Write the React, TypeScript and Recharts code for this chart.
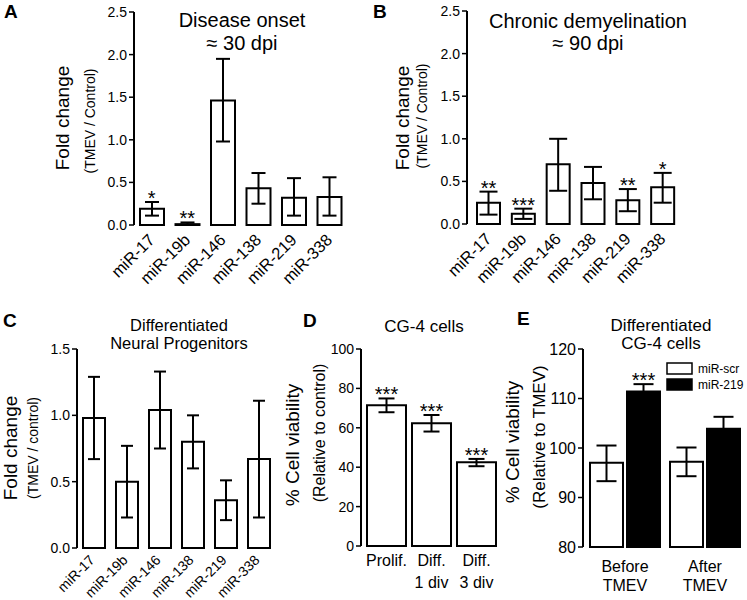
import React from "react";
import {
  Bar,
  ComposedChart,
  ErrorBar,
  LabelList,
  Scatter,
  XAxis,
  YAxis,
} from "recharts";

const FONT = "'Liberation Sans', Arial, Helvetica, sans-serif";

// microRNAs shared by panels A-C
const mirs = ["miR-17", "miR-19b", "miR-146", "miR-138", "miR-219", "miR-338"];

// A: disease onset (~30 dpi)
const onsetMean = [0.19, 0.01, 1.46, 0.43, 0.32, 0.33];
const onsetLow = [0.11, 0.005, 0.98, 0.25, 0.11, 0.11];
const onsetHigh = [0.27, 0.03, 1.95, 0.61, 0.55, 0.56];
const onsetStars = ["*", "**", "", "", "", ""];

// B: chronic demyelination (~90 dpi)
const chronicMean = [0.25, 0.12, 0.70, 0.48, 0.28, 0.43];
const chronicLow = [0.11, 0.06, 0.39, 0.29, 0.15, 0.25];
const chronicHigh = [0.38, 0.18, 1.0, 0.67, 0.41, 0.60];
const chronicStars = ["**", "***", "", "", "**", "*"];

// C: differentiated neural progenitors
const npMean = [0.98, 0.5, 1.04, 0.8, 0.36, 0.67];
const npLow = [0.67, 0.23, 0.75, 0.6, 0.21, 0.23];
const npHigh = [1.29, 0.77, 1.33, 1.0, 0.51, 1.11];

const foldTicksAB = [0, 0.5, 1.0, 1.5, 2.0, 2.5];
const foldTicksC = [0, 0.5, 1.0, 1.5];

// D: CG-4 cells viability
const cgGroups = ["Prolif.", "Diff.\n1 div", "Diff.\n3 div"];
const cgMean = [71.5, 62.3, 42.5];
const cgLow = [67.9, 58.1, 40.5];
const cgHigh = [74.9, 66.5, 44.2];
const cgStars = ["***", "***", "***"];
const cgTicks = [0, 20, 40, 60, 80, 100];

// E: differentiated CG-4, miR-scr vs miR-219
const tmevGroups = ["Before\nTMEV", "After\nTMEV"];
const seriesNames = ["miR-scr", "miR-219"];
const scrMean = [97.0, 97.2];
const scrLow = [93.3, 94.3];
const scrHigh = [100.5, 100.1];
const m219Mean = [111.4, 103.9];
const m219Low = [109.9, 101.5];
const m219High = [112.9, 106.3];
const m219Stars = ["***", ""];
const tmevTicks = [80, 90, 100, 110, 120];
const E_MIN = 80;

function RotTick(props: any) {
  const { x, y, payload, fs, ox, oy } = props;
  const ax = x + ox;
  const ay = y + oy;
  return (
    <g>
      <text
        x={ax}
        y={ay}
        transform={`rotate(-45, ${ax}, ${ay})`}
        textAnchor="end"
        fontSize={fs}
        fontFamily={FONT}
        fill="#000"
      >
        {payload.value}
      </text>
    </g>
  );
}

function TwoLineTick(props: any) {
  const { x, y, payload, dy, lh, fs } = props;
  const lines = String(payload.value).split("\n");
  return (
    <text x={x} y={y + dy} textAnchor="middle" fontSize={fs} fontFamily={FONT} fill="#000">
      {lines.map((l, i) => (
        <tspan key={i} x={x} dy={i ? lh : 0}>
          {l}
        </tspan>
      ))}
    </text>
  );
}

function StarMark(props: any) {
  const { cx, cy, payload } = props;
  if (!payload || !payload.star) return <g />;
  return (
    <text x={cx} y={cy + 3} textAnchor="middle" fontSize={20} fontFamily={FONT} fill="#000">
      {payload.star}
    </text>
  );
}

const yAxisProps = {
  width: 60,
  axisLine: { stroke: "#000", strokeWidth: 2 },
  tickLine: { stroke: "#000", strokeWidth: 1.5 },
  tickSize: 5,
  interval: 0 as const,
};

interface PanelProps {
  px0: number;
  px1: number;
  py0: number;
  py1: number;
  children: React.ReactNode;
}

function Place({ px0, px1, py0, py1, children }: PanelProps) {
  return (
    <div
      style={{
        position: "absolute",
        left: px0 - 60,
        top: py0 - 10,
        width: px1 - px0 + 62,
        height: py1 - py0 + 80,
      }}
    >
      {children}
    </div>
  );
}

function rows(
  names: string[],
  mean: number[],
  low: number[],
  high: number[],
  stars?: string[]
) {
  return names.map((name, i) => ({
    name,
    mean: mean[i],
    err: [mean[i] - low[i], high[i] - mean[i]],
    top: high[i],
    star: stars ? stars[i] : "",
  }));
}

function FoldPanel(props: {
  px0: number;
  px1: number;
  py0: number;
  py1: number;
  data: any[];
  ticks: number[];
  barSize: number;
  cap: number;
  padLeft: number;
  tickFs: number;
  labelFs: number;
  ox: number;
  oy: number;
}) {
  const { px0, px1, py0, py1, data, ticks, barSize, cap, padLeft, tickFs, labelFs, ox, oy } = props;
  const w = px1 - px0 + 62;
  const h = py1 - py0 + 80;
  return (
    <Place px0={px0} px1={px1} py0={py0} py1={py1}>
      <ComposedChart
        width={w}
        height={h}
        data={data}
        margin={{ top: 10, right: 2, left: 0, bottom: 0 }}
      >
        <XAxis
          dataKey="name"
          height={70}
          axisLine={false}
          tickLine={false}
          tickSize={0}
          tickMargin={0}
          interval={0}
          padding={{ left: padLeft, right: 0 }}
          tick={(p: any) => <RotTick {...p} fs={labelFs} ox={ox} oy={oy} />}
        />
        <YAxis
          {...yAxisProps}
          domain={[0, ticks[ticks.length - 1]]}
          ticks={ticks}
          tickFormatter={(v: number) => v.toFixed(1)}
          tick={{ fill: "#000", fontSize: tickFs, fontFamily: FONT }}
        />
        <Bar
          dataKey="mean"
          fill="#fff"
          stroke="#000"
          strokeWidth={2}
          barSize={barSize}
          isAnimationActive={false}
        >
          <ErrorBar dataKey="err" width={cap} strokeWidth={2} stroke="#000" direction="y" />
        </Bar>
        <Scatter dataKey="top" shape={<StarMark />} isAnimationActive={false} />
      </ComposedChart>
    </Place>
  );
}

const onsetData = rows(mirs, onsetMean, onsetLow, onsetHigh, onsetStars);
const chronicData = rows(mirs, chronicMean, chronicLow, chronicHigh, chronicStars);
const npData = rows(mirs, npMean, npLow, npHigh);
const cgData = rows(cgGroups, cgMean, cgLow, cgHigh, cgStars);
const tmevData = tmevGroups.map((name, i) => ({
  name,
  scr: scrMean[i],
  scrErr: [scrMean[i] - scrLow[i], scrHigh[i] - scrMean[i]],
  m219: m219Mean[i],
  m219Err: [m219Mean[i] - m219Low[i], m219High[i] - m219Mean[i]],
}));

function E219Star(p: any) {
  const { x, y, width, height, index } = p;
  const star = m219Stars[index];
  if (!star) return null;
  const perUnit = height / (m219Mean[index] - E_MIN);
  const yTop = y - (m219High[index] - m219Mean[index]) * perUnit;
  return (
    <text x={x + width / 2} y={yTop + 3} textAnchor="middle" fontSize={20} fontFamily={FONT} fill="#000">
      {star}
    </text>
  );
}

function VLabel({ x, y, fs, text }: { x: number; y: number; fs: number; text: string }) {
  return (
    <text
      transform={`translate(${x},${y}) rotate(-90)`}
      textAnchor="middle"
      fontSize={fs}
      fontFamily={FONT}
      fill="#000"
    >
      {text}
    </text>
  );
}

function T({ x, y, fs, text, bold }: { x: number; y: number; fs: number; text: string; bold?: boolean }) {
  return (
    <text
      x={x}
      y={y}
      textAnchor={bold ? "start" : "middle"}
      fontSize={fs}
      fontWeight={bold ? "bold" : "normal"}
      fontFamily={bold ? "Arial, 'Liberation Sans', sans-serif" : FONT}
      fill="#000"
    >
      {text}
    </text>
  );
}

export default function App() {
  return (
    <div
      style={{
        position: "absolute",
        left: 0,
        top: 0,
        width: 747,
        height: 600,
        overflow: "hidden",
        background: "#fff",
        fontFamily: FONT,
      }}
    >
      <FoldPanel px0={134} px1={347} py0={12} py1={225} data={onsetData} ticks={foldTicksAB} barSize={24} cap={7} padLeft={0} tickFs={14} labelFs={16.5} ox={4} oy={16} />
      <FoldPanel px0={467} px1={680} py0={11} py1={224} data={chronicData} ticks={foldTicksAB} barSize={23} cap={9} padLeft={4} tickFs={14} labelFs={16.5} ox={4} oy={16} />
      <FoldPanel px0={77} px1={275} py0={349} py1={548} data={npData} ticks={foldTicksC} barSize={22} cap={6} padLeft={0} tickFs={14} labelFs={14} ox={2} oy={13} />

      <Place px0={361} px1={499} py0={349} py1={546}>
        <ComposedChart width={200} height={277} data={cgData} margin={{ top: 10, right: 2, left: 0, bottom: 0 }}>
          <XAxis
            dataKey="name"
            height={70}
            axisLine={false}
            tickLine={false}
            tickSize={0}
            tickMargin={0}
            interval={0}
            padding={{ left: 3, right: 0 }}
            tick={<TwoLineTick dy={20} lh={22} fs={16} />}
          />
          <YAxis
            {...yAxisProps}
            domain={[0, 100]}
            ticks={cgTicks}
            tick={{ fill: "#000", fontSize: 14, fontFamily: FONT }}
          />
          <Bar dataKey="mean" fill="#fff" stroke="#000" strokeWidth={2} barSize={39} isAnimationActive={false}>
            <ErrorBar dataKey="err" width={8} strokeWidth={2} stroke="#000" direction="y" />
          </Bar>
          <Scatter dataKey="top" shape={<StarMark />} isAnimationActive={false} />
        </ComposedChart>
      </Place>

      <Place px0={583} px1={745} py0={349} py1={547}>
        <ComposedChart
          width={224}
          height={278}
          data={tmevData}
          margin={{ top: 10, right: 2, left: 0, bottom: 0 }}
          barGap={4}
        >
          <XAxis
            dataKey="name"
            height={70}
            axisLine={false}
            tickLine={false}
            tickSize={0}
            tickMargin={0}
            interval={0}
            padding={{ left: 2, right: 0 }}
            tick={<TwoLineTick dy={25} lh={19} fs={16} />}
          />
          <YAxis
            {...yAxisProps}
            domain={[E_MIN, 120]}
            ticks={tmevTicks}
            tick={{ fill: "#000", fontSize: 16, fontFamily: FONT }}
          />
          <Bar dataKey="scr" name={seriesNames[0]} fill="#fff" stroke="#000" strokeWidth={2} barSize={33} isAnimationActive={false}>
            <ErrorBar dataKey="scrErr" width={10} strokeWidth={2} stroke="#000" direction="y" />
          </Bar>
          <Bar dataKey="m219" name={seriesNames[1]} fill="#000" stroke="#000" strokeWidth={2} barSize={33} isAnimationActive={false}>
            <ErrorBar dataKey="m219Err" width={10} strokeWidth={2} stroke="#000" direction="y" />
            <LabelList dataKey="m219" content={<E219Star />} />
          </Bar>
        </ComposedChart>
      </Place>

      <svg
        width={747}
        height={600}
        style={{ position: "absolute", left: 0, top: 0, pointerEvents: "none" }}
      >
        <T x={4} y={18} fs={19} text="A" bold />
        <T x={373} y={18} fs={19} text="B" bold />
        <T x={3} y={327} fs={19} text="C" bold />
        <T x={303} y={327} fs={19} text="D" bold />
        <T x={517} y={325} fs={19} text="E" bold />

        <T x={242} y={27} fs={20} text="Disease onset" />
        <T x={242} y={50} fs={20} text="≈ 30 dpi" />
        <T x={588} y={28} fs={20} text="Chronic demyelination" />
        <T x={588} y={50} fs={20} text="≈ 90 dpi" />
        <T x={179} y={331} fs={16.5} text="Differentiated" />
        <T x={179} y={349} fs={16.5} text="Neural Progenitors" />
        <T x={424} y={332} fs={17} text="CG-4 cells" />
        <T x={661} y={331} fs={17} text="Differentiated" />
        <T x={661} y={349} fs={17} text="CG-4 cells" />

        <VLabel x={69} y={118} fs={19} text="Fold change" />
        <VLabel x={95} y={121} fs={14} text="(TMEV / Control)" />
        <VLabel x={409} y={118} fs={19} text="Fold change" />
        <VLabel x={427} y={116} fs={14} text="(TMEV / Control)" />
        <VLabel x={17} y={448} fs={19} text="Fold change" />
        <VLabel x={38} y={448} fs={14} text="(TMEV / control)" />
        <VLabel x={299} y={445} fs={19} text="% Cell viability" />
        <VLabel x={325} y={433} fs={16} text="(Relative to control)" />
        <VLabel x={519} y={442} fs={19} text="% Cell viability" />
        <VLabel x={545} y={437} fs={17} text="(Relative to TMEV)" />

        {seriesNames.map((n, i) => (
          <g key={n}>
            <rect
              x={667}
              y={363 + i * 16}
              width={25}
              height={11}
              fill={i === 0 ? "#fff" : "#000"}
              stroke="#000"
              strokeWidth={1.5}
            />
            <text x={698} y={373 + i * 16} fontSize={12} fontFamily={FONT} fill="#000">
              {n}
            </text>
          </g>
        ))}
      </svg>
    </div>
  );
}
